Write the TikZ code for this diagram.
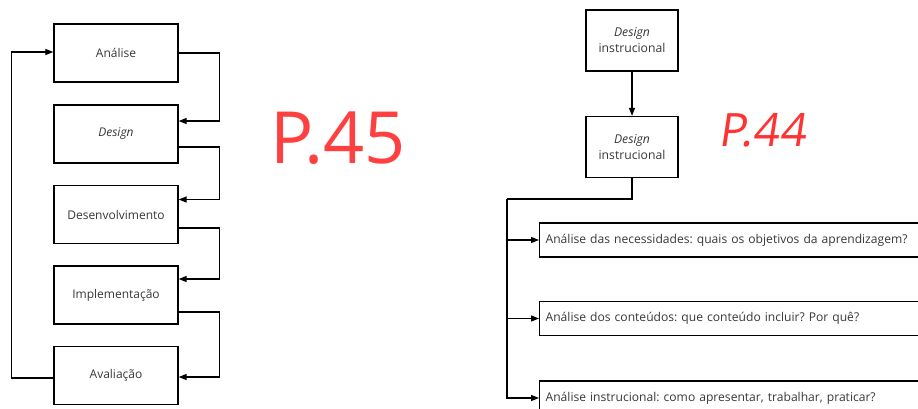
\documentclass[tikz,border=0pt]{standalone}
\usepackage{fontspec}
\setmainfont{Open Sans}
\usetikzlibrary{arrows.meta}
\frenchspacing

\begin{document}
\begin{tikzpicture}[x=1pt, y=-1pt,
  phase/.style={draw, line width=1.3pt, minimum width=124pt, minimum height=58pt,
    inner sep=0pt, font=\fontsize{12}{14}\selectfont, text=black!78},
  dibox/.style={draw, line width=1.3pt, minimum width=92pt, minimum height=61pt,
    inner sep=0pt, align=center, font=\fontsize{12.2}{16}\selectfont, text=black!78},
  quest/.style={draw, line width=1.3pt, minimum width=420pt, minimum height=34pt,
    inner sep=6pt, anchor=west, text width=408pt, font=\fontsize{12.1}{14}\selectfont, text=black!78},
  arr/.style={line width=1.2pt, -{Triangle[length=8pt,width=6pt]}},
  wire/.style={line width=1.2pt}]
  \clip (0,0) rectangle (918,408);
  \fill[white] (0,0) rectangle (918,408);

  % ADDIE phases, left
  \node[phase] (ana) at (116,53) {Análise};
  \node[phase] (dsg) at (116,134) {\itshape Design};
  \node[phase] (dev) at (116,214.5) {Desenvolvimento};
  \node[phase] (imp) at (116,295) {Implementação};
  \node[phase] (ava) at (116,375.5) {Avaliação};

  % arrows down the right side
  \draw[arr] (ana.east) -- ++(41,0) |- ([yshift=13pt]dsg.east);
  \draw[arr] ([yshift=-13pt]dsg.east) -- ++(41,0) |- ([yshift=15pt]dev.east);
  \draw[arr] ([yshift=-13.5pt]dev.east) -- ++(41,0) |- ([yshift=16pt]imp.east);
  \draw[arr] ([yshift=-17pt]imp.east) -- ++(41,0) |- ([yshift=-1.5pt]ava.east);
  % feedback loop
  \draw[arr] ([yshift=-2.5pt]ava.west) -- ++(-42,0) |- ([yshift=1pt]ana.west);

  % handwritten page note
  \node[text=red!75, font=\fontsize{72}{72}\selectfont] (p45) at (338,138) {P.45};

  % design instrucional, right
  \node[dibox] (di1) at (632,40.5) {\itshape Design\\instrucional};
  \node[dibox] (di2) at (632,147) {\itshape Design\\instrucional};
  \draw[arr] (di1) -- (di2);

  \node[text=red!80, font=\fontsize{46}{46}\selectfont\addfontfeatures{FakeSlant=0.15}] (p44) at (762,130) {P.44};

  \node[quest] (nec) at (539,240) {Análise das necessidades: quais os objetivos da aprendizagem?};
  \node[quest] (cont) at (539,318.5) {Análise dos conteúdos: que conteúdo incluir? Por quê?};
  \node[quest] (inst) at (539,398) {Análise instrucional: como apresentar, trabalhar, praticar?};

  \coordinate (trunk) at (507,199);
  \draw[wire] (di2.south) |- (trunk);
  \draw[arr] (trunk) |- (inst.west);
  \draw[arr] (trunk |- nec.west) -- (nec.west);
  \draw[arr] (trunk |- cont.west) -- (cont.west);
\end{tikzpicture}
\end{document}
